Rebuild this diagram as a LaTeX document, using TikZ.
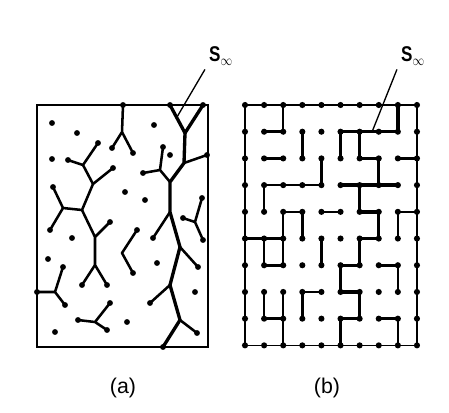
\documentclass[tikz,border=0pt]{standalone}
\usepackage{fontspec}
\usepackage{graphicx}
\setsansfont{Liberation Sans}
\usetikzlibrary{positioning}

\tikzset{
  bond/.style={line width=1.9pt,line cap=round,line join=round},
  spanbond/.style={line width=2.5pt,line cap=round,line join=round},
  frame/.style={line width=1.3pt},
  lead/.style={line width=1pt},
  sinf/.style={font=\sffamily\bfseries\fontsize{16}{16}\selectfont,inner sep=3pt},
  panel/.style={font=\sffamily\fontsize{16}{16}\selectfont,inner sep=0pt},
}

\begin{document}
\begin{tikzpicture}[x=0.75pt,y=-0.75pt]
\useasboundingbox (0,0) rectangle (449,412);

% (a) continuum clusters
\draw[frame] (37,105) rectangle (208,347);
\draw[spanbond] (170,105) -- (185,133) -- (203,105);
\draw[spanbond] (185,133) -- (184,163) -- (170,182) -- (170,212) -- (180,247)
  -- (170,285) -- (180,320) -- (163,347);
\draw[bond] (184,163) -- (207,155);
\draw[bond] (170,182) -- (160,170) -- (143,173) (160,170) -- (163,147);
\draw[bond] (170,212) -- (153,238) (180,247) -- (198,267);
\draw[bond] (170,285) -- (150,303) (180,320) -- (197,333);
\draw[bond] (123,105) -- (122,132) -- (112,148) (122,132) -- (133,153);
\draw[bond] (68,160) -- (83,165) -- (98,143) (83,165) -- (93,184) -- (113,168);
\draw[bond] (93,184) -- (82,210) -- (63,208) -- (53,187) (63,208) -- (50,230);
\draw[bond] (82,210) -- (95,237) -- (110,222) (95,237) -- (95,265) -- (82,285)
  (95,265) -- (107,285);
\draw[bond] (37,292) -- (55,292) -- (63,267) (55,292) -- (65,305);
\draw[bond] (78,320) -- (95,322) -- (110,303) (95,322) -- (107,330);
\draw[bond] (137,230) -- (122,253) -- (133,273);
\draw[bond] (183,218) -- (195,222) -- (202,198) (195,222) -- (203,240);
\foreach \p in {(170,105),(203,105),(207,155),(143,173),(163,147),(153,238),
  (198,267),(150,303),(163,347),(197,333),(123,105),(112,148),(133,153),
  (68,160),(98,143),(113,168),(53,187),(50,230),(110,222),(82,285),(107,285),
  (37,292),(63,267),(65,305),(78,320),(110,303),(107,330),(137,230),(133,273),
  (183,218),(202,198),(203,240),
  (52,123),(77,133),(154,125),(52,159),(125,192),(145,200),(72,238),(48,259),
  (157,263),(195,292),(127,322),(55,332),(170,155)}
  \fill \p circle[radius=2.2pt];

% (b) lattice bonds
\begin{scope}[shift={(245,105)},x=14.33pt,y=-20.03pt]
  \foreach \c in {0,...,9}
    \foreach \r in {0,...,9}
      \coordinate (b\c\r) at (\c,\r);
  \draw[frame] (b00) rectangle (b99);
  \draw[bond] (b11) -- (b21) -- (b20);
  \draw[bond] (b31) -- (b32);
  \draw[bond] (b12) -- (b22);
  \draw[bond] (b42) -- (b43) -- (b13) -- (b14);
  \draw[bond] (b05) -- (b25) (b15) -- (b16) -- (b26) (b24) -- (b26);
  \draw[bond] (b24) -- (b34) -- (b35);
  \draw[bond] (b45) -- (b46);
  \draw[bond] (b44) -- (b54);
  \draw[bond] (b17) -- (b18) -- (b28) (b27) -- (b29);
  \draw[bond] (b38) -- (b37) -- (b47);
  \draw[bond] (b82) -- (b92);
  \draw[bond] (b94) -- (b84) -- (b85);
  \draw[bond] (b76) -- (b86) -- (b87);
  \draw[bond] (b78) -- (b88) -- (b89);
  % spanning cluster
  \draw[spanbond] (b80) -- (b81) -- (b51) -- (b52);
  \draw[spanbond] (b61) -- (b62) -- (b72) -- (b73);
  \draw[spanbond] (b53) -- (b83);
  \draw[spanbond] (b63) -- (b64) -- (b74) -- (b75) -- (b65) -- (b66) -- (b56)
    -- (b57) -- (b67) -- (b68) -- (b58) -- (b59);
  \foreach \c in {0,...,9}
    \foreach \r in {0,...,9}
      \fill (b\c\r) circle[radius=2.3pt];
\end{scope}

% labels
\node[sinf] (sa) at (221,56) {\scalebox{0.8}[1]{S$_\infty$}};
\coordinate (aend) at (177,117);
\draw[lead] (sa.south west) -- (aend);
\node[sinf] (sb) at (413,56) {\scalebox{0.8}[1]{S$_\infty$}};
\coordinate (bend) at (372,132);
\draw[lead] (sb.south west) -- (bend);
\node[panel] (capa) at (123,388) {(a)};
\node[panel] (capb) at (327,388) {(b)};
\end{tikzpicture}
\end{document}
